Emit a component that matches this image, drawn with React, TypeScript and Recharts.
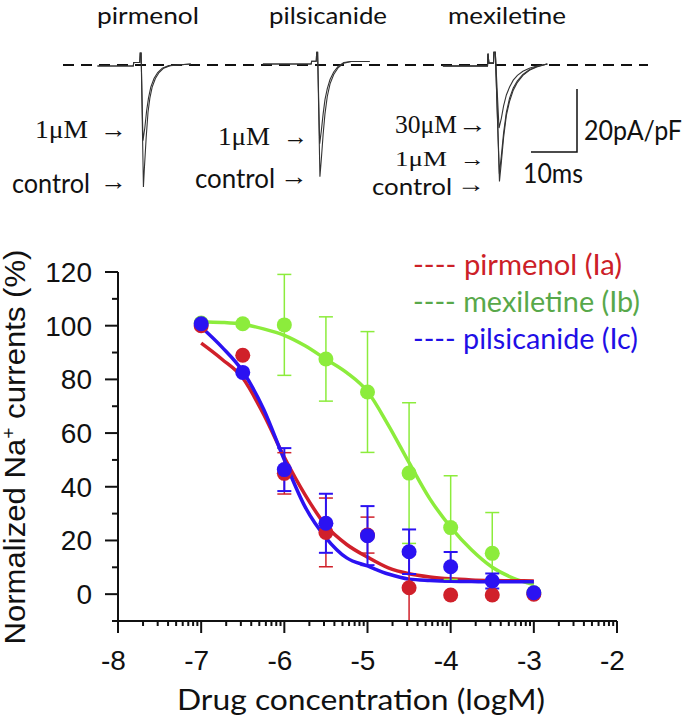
import { ComposedChart, LineChart, Line, Scatter, ErrorBar, XAxis, YAxis, ReferenceLine } from "recharts";

// dose-response, log M
const logDose = [-7, -6.5, -6, -5.5, -5, -4.5, -4, -3.5, -3];
const pirmenolMean = [100, 89, 45, 23, 22, 2.4, -0.3, -0.3, 0];
const pirmenolErr = [0, 0, 7.7, 12.8, 6.7, 12.4, 0, 0, 0];
const mexiletineMean = [101, 100.7, 100.3, 87.6, 75.3, 45.1, 24.8, 15.2, 0.5];
const mexiletineErr = [0, 0, 18.8, 15.7, 22.5, 26.2, 19.3, 15.2, 0];
const pilsicanideMean = [100.7, 82.6, 46.4, 26.4, 21.8, 15.8, 10.2, 4.9, 0.5];
const pilsicanideErr = [0, 0, 8, 11, 11, 8.3, 5.5, 2.8, 0];

// fitted curves
const fitDose = [-7, -6.75, -6.5, -6.25, -6, -5.75, -5.5, -5.25, -5, -4.75, -4.5, -4.25, -4, -3.75, -3.5, -3.25, -3];
const pirmenolFit = [93.5, 87.5, 80.5, 67, 51, 37, 25.5, 18.5, 13.8, 9.8, 7.6, 6.4, 5.7, 5.3, 5.1, 5.0, 4.9];
const mexiletineFit = [101.5, 101.2, 100.5, 98.8, 96.4, 92.5, 87.5, 82.5, 75.5, 63, 49, 35.5, 25, 16.5, 10, 6, 3.6];
const pilsicanideFit = [99.5, 92, 83, 69, 50, 32.5, 21, 13.5, 10.5, 7.5, 5.6, 5.1, 4.8, 4.7, 4.6, 4.6, 4.6];

const yTicks = [-10, 0, 10, 20, 30, 40, 50, 60, 70, 80, 90, 100, 110, 120];
const xMajor = [-8, -7, -6, -5, -4, -3, -2];
const xMinor = xMajor.slice(0, -1).flatMap((d) => [2, 3, 4, 5, 6, 7, 8, 9].map((k) => d + Math.log10(k)));

// current traces: [ms from stimulus, pA/pF]
const pirmenolControl = [[-9.8, -0.3], [-2, -0.3], [-1.9, 0.8], [-0.6, 0.8], [-0.5, 3.8], [-0.3, 3.8], [0.2, -38.7], [0.4, -33], [0.8, -23], [1.2, -15], [1.6, -10.5], [2.1, -7], [2.8, -4.3], [3.6, -2.4], [4.6, -1], [6, -0.2], [10.5, 0.3]];
const pirmenol1uM = [[-9.8, -0.3], [-2, -0.3], [-1.9, 0.8], [-0.6, 0.8], [-0.5, 3.8], [-0.3, 3.8], [0.1, -24], [0.5, -20], [0.9, -14.5], [1.3, -10.5], [1.8, -7], [2.5, -4.3], [3.3, -2.4], [4.3, -1], [5.7, -0.2], [10.5, 0.3]];
const pilsicanideControl = [[-12.2, 0.3], [-1.7, 0.3], [-1.6, 1.2], [-0.6, 1.2], [-0.5, 4], [-0.3, 4], [0.2, -35.5], [0.5, -30], [0.9, -22], [1.3, -15.5], [1.8, -10], [2.4, -6], [3.2, -3], [4.2, -0.8], [5.4, 0.6], [7, 1.1], [11, 1.1]];
const pilsicanide1uM = [[-12.2, 0.3], [-1.7, 0.3], [-1.6, 1.2], [-0.6, 1.2], [-0.5, 4], [-0.3, 4], [0.15, -25], [0.5, -21], [0.9, -15.5], [1.3, -11], [1.8, -7.5], [2.4, -4.6], [3.2, -2.2], [4.2, -0.4], [5.4, 0.8], [7, 1.1], [11, 1.1]];
const mexiletineControl = [[-12.2, -0.3], [-2.5, -0.3], [-2.4, 3.6], [-2.2, 0.6], [-1.2, 0.6], [-1.1, 4], [-0.8, 4], [0.1, -37], [0.5, -31], [1, -23], [1.6, -16], [2.3, -11.5], [3.1, -8], [4, -5.5], [5.2, -3.3], [6.6, -1.7], [8.2, -0.6], [10.5, 0.3]];
const mexiletine1uM = [[-12.2, -0.3], [-2.5, -0.3], [-2.4, 3.6], [-2.2, 0.6], [-1.2, 0.6], [-1.1, 4], [-0.8, 4], [0.08, -34.5], [0.5, -29], [1, -21.5], [1.6, -15], [2.3, -10.5], [3.1, -7.3], [4, -5], [5.2, -3], [6.6, -1.5], [8.2, -0.5], [10.5, 0.3]];
const mexiletine30uM = [[-12.2, -0.3], [-2.5, -0.3], [-2.4, 3.6], [-2.2, 0.6], [-1.2, 0.6], [-1.1, 4], [-0.8, 4], [0, -20], [0.5, -17], [1, -13], [1.6, -9.5], [2.3, -7], [3.1, -4.8], [4, -3.3], [5.2, -2], [6.6, -1], [8.2, -0.3], [10.5, 0.3]];
const scaleBarMs = 10;
const scaleBarPA = 20;

// layout of the trace strip
const PX_PER_MS = 4.6;
const PX_PER_PA = 3.15;
const TOP_H = 200;
const ZERO_Y = 65;
const onsetMs = { pirmenol: 142.5 / PX_PER_MS, pilsicanide: 319 / PX_PER_MS, mexiletine: 499 / PX_PER_MS };
const barAt = { t: 577 / PX_PER_MS, v: (ZERO_Y - 89) / PX_PER_PA };

const RED = "#d0202a";
const GREEN = "#8cec3c";
const BLUE = "#2b12f2";
const INK = "#111";

const toTrace = (pts: number[][], onset: number) => pts.map(([t, v]) => ({ t: onset + t, v }));
const toPoints = (mean: number[], err: number[]) => logDose.map((x, i) => ({ x, y: mean[i], err: err[i] }));
const toFit = (ys: number[]) => fitDose.map((x, i) => ({ x, y: ys[i] }));

const traces = [
  toTrace(pirmenolControl, onsetMs.pirmenol),
  toTrace(pirmenol1uM, onsetMs.pirmenol),
  toTrace(pilsicanideControl, onsetMs.pilsicanide),
  toTrace(pilsicanide1uM, onsetMs.pilsicanide),
  toTrace(mexiletineControl, onsetMs.mexiletine),
  toTrace(mexiletine1uM, onsetMs.mexiletine),
  toTrace(mexiletine30uM, onsetMs.mexiletine),
];
const scaleBar = [
  { t: barAt.t, v: barAt.v },
  { t: barAt.t, v: barAt.v - scaleBarPA },
  { t: barAt.t - scaleBarMs, v: barAt.v - scaleBarPA },
];

const series = [
  { name: "mexiletine", color: GREEN, pts: toPoints(mexiletineMean, mexiletineErr), fit: toFit(mexiletineFit), ew: 1.5 },
  { name: "pirmenol", color: RED, pts: toPoints(pirmenolMean, pirmenolErr), fit: toFit(pirmenolFit), ew: 1.5 },
  { name: "pilsicanide", color: BLUE, pts: toPoints(pilsicanideMean, pilsicanideErr), fit: toFit(pilsicanideFit), ew: 2 },
];

const SANS = "'Liberation Sans', Arial, sans-serif";
const CAL = "Lato, 'Open Sans', sans-serif";
const SERIF = "'Liberation Serif', serif";

const XTick = ({ x, y, payload }: any) => {
  const major = Number.isInteger(payload.value);
  return (
    <g>
      <line x1={x} x2={x} y1={y} y2={y + (major ? 12 : 5)} stroke={INK} strokeWidth={2} />
      {major && (
        <text x={x - 4.5} y={y + 49} textAnchor="middle" fontFamily={SANS} fontSize={28} fill={INK}>
          {payload.value}
        </text>
      )}
    </g>
  );
};

const YTick = ({ x, y, payload }: any) => {
  const v = payload.value;
  const major = v >= 0 && v % 20 === 0;
  return (
    <g>
      <line x1={x - (major ? 13 : 6)} x2={x} y1={y} y2={y} stroke={INK} strokeWidth={2} />
      {major && (
        <text x={x - 26} y={y + 10} textAnchor="end" fontFamily={SANS} fontSize={28} fill={INK}>
          {v}
        </text>
      )}
    </g>
  );
};

const Dot = (color: string) => (p: any) => <circle cx={p.cx} cy={p.cy} r={7.5} fill={color} />;

const T = ({ x, y, w, size = 26, font = CAL, fill = INK, children }: any) => (
  <text x={x} y={y} textLength={w} lengthAdjust="spacingAndGlyphs" fontFamily={font} fontSize={size} fill={fill}>
    {children}
  </text>
);

const legendRows = [
  { label: "---- pirmenol (Ia)", color: "#cc2027", y: 275, w: 209 },
  { label: "---- mexiletine (Ib)", color: "#58a84a", y: 312, w: 227 },
  { label: "---- pilsicanide (Ic)", color: "#1f0fe6", y: 349, w: 225 },
];

export default function App() {
  return (
    <div style={{ position: "relative", width: 685, height: 721, overflow: "hidden", background: "#fff" }}>
      <style>{"body{margin:0}"}</style>

      <div style={{ position: "absolute", left: 0, top: 0 }}>
        <LineChart width={685} height={TOP_H} margin={{ top: 0, right: 0, bottom: 0, left: 0 }}>
          <XAxis type="number" dataKey="t" domain={[0, 685 / PX_PER_MS]} hide allowDataOverflow />
          <YAxis type="number" domain={[-(TOP_H - ZERO_Y) / PX_PER_PA, ZERO_Y / PX_PER_PA]} hide allowDataOverflow />
          <ReferenceLine
            segment={[{ x: 63 / PX_PER_MS, y: 0 }, { x: 648 / PX_PER_MS, y: 0 }]}
            stroke={INK}
            strokeWidth={2}
            strokeDasharray="11 7"
            ifOverflow="visible"
          />
          {traces.map((d, i) => (
            <Line key={i} data={d} dataKey="v" type="linear" stroke="#333" strokeWidth={1.1} dot={false} isAnimationActive={false} />
          ))}
          <Line data={scaleBar} dataKey="v" type="linear" stroke={INK} strokeWidth={1.5} dot={false} isAnimationActive={false} />
        </LineChart>
      </div>

      <div style={{ position: "absolute", left: 0, top: 0 }}>
        <ComposedChart width={685} height={721} margin={{ top: 272, right: 68, bottom: 40, left: 18 }}>
          <XAxis
            type="number"
            dataKey="x"
            domain={[-8, -2]}
            ticks={[...xMajor, ...xMinor]}
            interval={0}
            height={60}
            tickSize={0}
            tickMargin={0}
            tickLine={false}
            axisLine={{ stroke: INK, strokeWidth: 2 }}
            tick={<XTick />}
          />
          <YAxis
            type="number"
            domain={[-10, 120]}
            ticks={yTicks}
            interval={0}
            width={100}
            tickSize={0}
            tickMargin={0}
            tickLine={false}
            axisLine={{ stroke: INK, strokeWidth: 2 }}
            tick={<YTick />}
          />
          {series.map((s) => (
            <Line
              key={s.name + "fit"}
              data={s.fit}
              dataKey="y"
              type="monotone"
              stroke={s.color}
              strokeWidth={3.5}
              dot={false}
              isAnimationActive={false}
            />
          ))}
          {series.map((s) => (
            <Scatter key={s.name} data={s.pts} dataKey="y" shape={Dot(s.color)} isAnimationActive={false}>
              <ErrorBar dataKey="err" direction="y" width={7} stroke={s.color} strokeWidth={s.ew} isAnimationActive={false} />
            </Scatter>
          ))}
        </ComposedChart>
      </div>

      <svg width={685} height={721} style={{ position: "absolute", left: 0, top: 0, pointerEvents: "none" }}>
        <T x={97} y={24} w={102} size={23}>pirmenol</T>
        <T x={269} y={24} w={118} size={23}>pilsicanide</T>
        <T x={448} y={24} w={118} size={23}>mexiletine</T>

        <T x={35} y={138} w={53} font={SERIF} size={25}>1μM</T>
        <T x={100} y={138} w={27} font={SERIF} size={25}>→</T>
        <T x={12} y={193} w={78}>control</T>
        <T x={100} y={190} w={27} font={SERIF} size={25}>→</T>

        <T x={218} y={145} w={52} font={SERIF} size={25}>1μM</T>
        <T x={283} y={145} w={25} font={SERIF} size={25}>→</T>
        <T x={195} y={188} w={80}>control</T>
        <T x={280} y={185} w={28} font={SERIF} size={25}>→</T>

        <T x={395} y={133} w={62} font={SERIF} size={25}>30μM</T>
        <T x={458} y={133} w={29} font={SERIF} size={25}>→</T>
        <T x={395} y={166} w={52} font={SERIF} size={22}>1μM</T>
        <T x={460} y={166} w={25} font={SERIF} size={22}>→</T>
        <T x={372} y={195} w={80} size={24}>control</T>
        <T x={457} y={192} w={28} font={SERIF} size={24}>→</T>

        <T x={584} y={140} w={98}>20pA/pF</T>
        <T x={523} y={183} w={60}>10ms</T>

        {legendRows.map((r) => (
          <T key={r.label} x={413} y={r.y} w={r.w} size={29} fill={r.color}>
            {r.label}
          </T>
        ))}

        <text x={361} y={710} textAnchor="middle" textLength={368} lengthAdjust="spacingAndGlyphs" fontFamily={CAL} fontSize={29} fill={INK}>
          Drug concentration (logM)
        </text>
        <text
          transform="translate(25,447) rotate(-90)"
          textAnchor="middle"
          textLength={395}
          lengthAdjust="spacingAndGlyphs"
          fontFamily={SANS}
          fontSize={29}
          fill={INK}
        >
          Normalized Na<tspan dy={-10} fontSize={18}>+</tspan>
          <tspan dy={10}> currents (%)</tspan>
        </text>
      </svg>
    </div>
  );
}
